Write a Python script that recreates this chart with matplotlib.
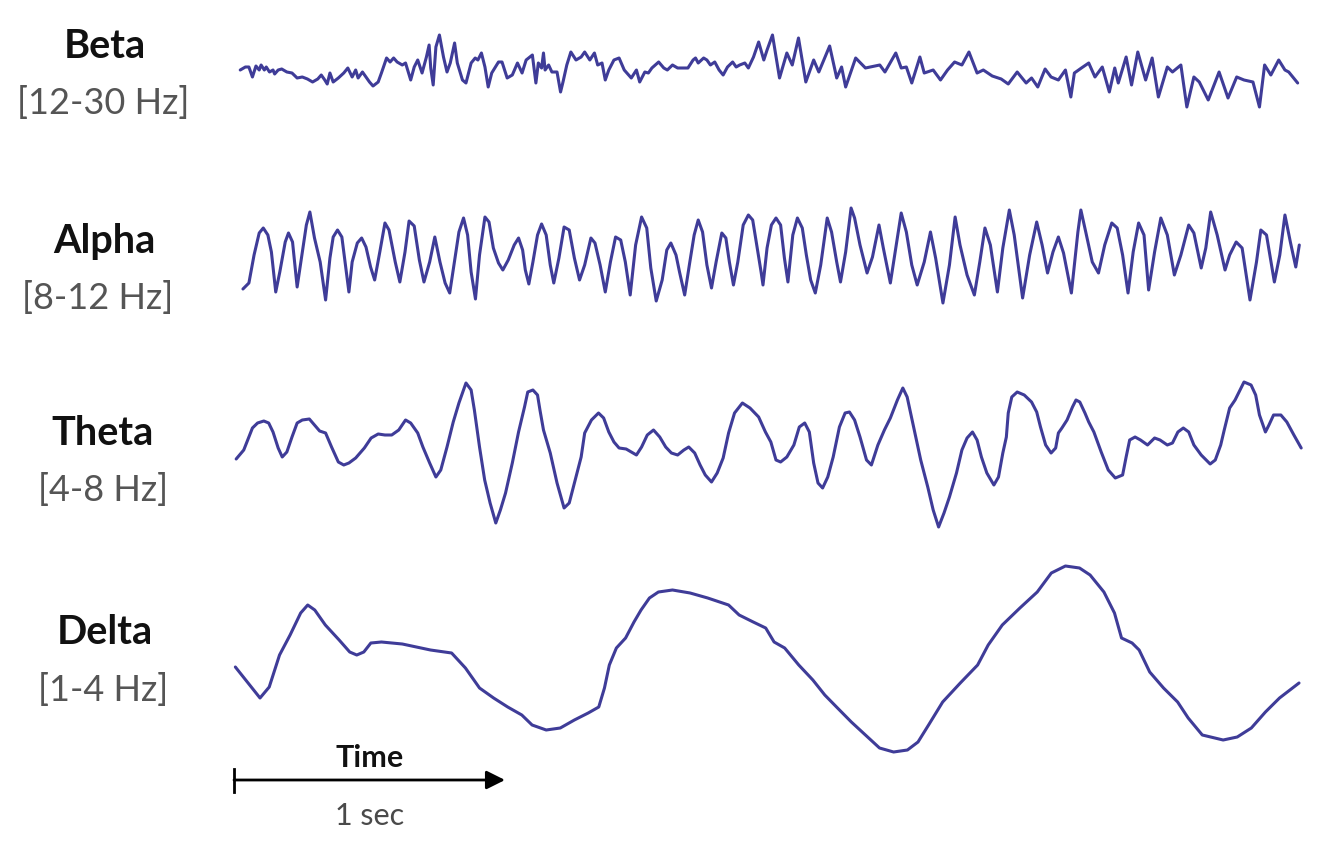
import numpy as np
import matplotlib.pyplot as plt

plt.rcParams['font.family'] = ['Lato', 'DejaVu Sans']

# EEG rhythms: time in ms, amplitude in uV
band_names = ["Beta", "Alpha", "Theta", "Delta"]
band_ranges = ["[12-30 Hz]", "[8-12 Hz]", "[4-8 Hz]", "[1-4 Hz]"]

beta = [(23, 2), (42, 5), (55, 5), (68, -5), (81, 6), (93, 2), (100, 7), (112, 2), (119, 5), (131, 0),
        (144, 2), (150, -2), (163, 2), (176, 3), (195, 0), (214, -1), (233, -6), (252, -5), (271, -7),
        (290, -10), (309, -7), (322, -3), (335, -8), (344, -12), (354, -1), (366, -10), (385, -6),
        (405, -1), (420, 4), (436, -5), (449, 2), (458, -6), (474, 0), (487, -5), (500, -10), (513, -14),
        (532, -10), (544, -1), (563, 14), (576, 10), (589, 14), (602, 10), (621, 7), (633, 9), (652, -8),
        (665, 5), (678, 12), (694, -1), (710, 15), (720, 27), (726, 4), (735, -13), (745, 25), (758, 37),
        (773, 15), (786, 0), (798, 9), (814, 29), (824, 9), (843, -8), (856, -11), (875, 9), (890, 14),
        (900, 12), (913, 19), (926, 5), (938, -15), (951, -1), (976, 10), (989, 10), (1008, -6),
        (1027, -3), (1046, 9), (1063, -1), (1078, 12), (1101, 17), (1114, -11), (1123, 9), (1135, 4),
        (1142, 19), (1148, 2), (1161, 7), (1173, 0), (1192, 0), (1205, -20), (1214, -10), (1228, 7),
        (1243, 20), (1262, 12), (1281, 15), (1294, 20), (1313, 12), (1330, 19), (1342, 7), (1358, 9),
        (1370, -8), (1383, 2), (1402, 12), (1421, 14), (1440, 2), (1466, -6), (1485, 2), (1497, -10),
        (1516, 0), (1529, -1), (1542, 4), (1567, 10), (1586, 4), (1599, 2), (1618, 7), (1637, 4),
        (1656, 4), (1675, 4), (1694, 12), (1703, 14), (1713, 9), (1733, 14), (1745, 12), (1758, 7),
        (1774, 10), (1790, 2), (1805, -3), (1821, 5), (1840, 10), (1853, 5), (1866, 7), (1885, 9),
        (1898, 4), (1917, 15), (1936, 30), (1955, 12), (1967, 22), (1987, 37), (2013, -6), (2040, 19),
        (2060, 7), (2083, 34), (2110, -10), (2139, 12), (2158, 0), (2198, 26), (2224, -6), (2242, 5),
        (2257, -15), (2294, 14), (2330, 4), (2383, 7), (2402, 0), (2442, 19), (2462, 4), (2481, 5),
        (2501, -11), (2531, 15), (2547, -1), (2580, 2), (2607, -8), (2633, 2), (2659, 10), (2686, 7),
        (2712, 20), (2742, -1), (2765, 2), (2798, -4), (2831, -7), (2857, -12), (2890, 0), (2923, -11),
        (2943, -6), (2966, -15), (2993, 3), (3015, -5), (3042, -8), (3068, 2), (3088, -25), (3101, -1),
        (3127, 4), (3154, 9), (3177, -5), (3204, 5), (3230, -20), (3250, 4), (3263, -11), (3292, 15),
        (3312, -13), (3335, 20), (3364, -8), (3388, 14), (3411, -25), (3444, 5), (3463, 0), (3494, 7),
        (3516, -35), (3542, -5), (3562, -10), (3595, -28), (3635, 0), (3668, -26), (3700, -5),
        (3727, -8), (3760, -10), (3784, -35), (3803, 7), (3826, -3), (3855, 12), (3878, 2), (3892, 0),
        (3925, -11)]

alpha = [(33, -32), (55, -26), (74, 2), (93, 24), (108, 29), (125, 22), (138, 5), (154, -35), (169, -15),
         (189, 15), (201, 24), (216, 15), (233, -30), (252, 5), (267, 32), (280, 45), (297, 19), (318, -5),
         (338, -43), (354, -1), (366, 20), (382, 27), (398, 20), (424, -35), (436, -5), (455, 14),
         (471, 19), (487, 10), (504, -10), (519, -23), (538, 5), (557, 34), (572, 27), (595, -5),
         (612, -25), (631, 5), (646, 36), (665, 31), (684, -3), (701, -25), (722, -5), (741, 20),
         (760, -5), (779, -26), (796, -36), (817, 2), (830, 25), (847, 39), (862, 22), (875, -15),
         (891, -42), (906, 2), (926, 40), (941, 35), (957, 9), (976, -6), (992, -13), (1012, -3),
         (1034, 12), (1050, 19), (1065, 7), (1075, -13), (1088, -27), (1103, -5), (1120, 22), (1135, 33),
         (1152, 22), (1167, -8), (1180, -26), (1199, -1), (1218, 30), (1237, 27), (1256, -1), (1275, -23),
         (1294, -8), (1317, 19), (1332, 14), (1351, -8), (1370, -35), (1389, -5), (1408, 20), (1427, 17),
         (1444, -5), (1462, -38), (1482, 12), (1504, 40), (1523, 29), (1538, -11), (1558, -44),
         (1580, -23), (1597, 7), (1612, 14), (1631, 2), (1644, -15), (1663, -38), (1682, -5), (1698, 22),
         (1713, 37), (1729, 25), (1745, -8), (1762, -31), (1779, -5), (1800, 24), (1815, 19), (1828, -5),
         (1843, -28), (1859, -5), (1879, 32), (1898, 42), (1914, 37), (1929, 12), (1945, -15),
         (1952, -28), (1967, 9), (1983, 32), (2000, 39), (2017, 32), (2031, -1), (2044, -25), (2062, 22),
         (2079, 39), (2097, 29), (2112, 2), (2128, -23), (2145, -36), (2165, -8), (2189, 39), (2205, 25),
         (2224, -5), (2238, -25), (2257, 5), (2277, 49), (2290, 39), (2310, 12), (2336, -16), (2356, 0),
         (2380, 32), (2396, 9), (2422, -26), (2442, 9), (2462, 44), (2481, 25), (2501, -8), (2521, -28),
         (2547, -5), (2570, 25), (2589, -1), (2616, -46), (2640, -8), (2661, 40), (2679, 12), (2705, -18),
         (2732, -38), (2752, -5), (2771, 29), (2791, 12), (2817, -35), (2837, 9), (2861, 47), (2879, 22),
         (2910, -41), (2936, 2), (2962, 35), (2982, 12), (3002, -16), (3022, 5), (3042, 20), (3061, 4),
         (3090, -36), (3114, 25), (3125, 47), (3143, 25), (3167, -5), (3190, -16), (3213, 12), (3239, 34),
         (3259, 29), (3279, 2), (3299, -36), (3318, 5), (3338, 34), (3358, 22), (3375, -33), (3397, 5),
         (3420, 39), (3444, 22), (3470, -18), (3494, 2), (3523, 32), (3542, 24), (3569, -11), (3586, 9),
         (3604, 45), (3628, 22), (3657, -13), (3674, 2), (3698, 15), (3720, 9), (3749, -43), (3773, -5),
         (3789, 27), (3810, 22), (3839, -25), (3859, 2), (3878, 42), (3898, 15), (3918, -10), (3931, 12)]

theta = [(8, -4), (36, 5), (68, 27), (87, 32), (110, 34), (128, 32), (144, 23), (163, 7), (178, -2),
         (195, 3), (214, 18), (233, 32), (252, 35), (278, 36), (297, 30), (316, 24), (338, 22), (360, 8),
         (385, -7), (405, -10), (424, -8), (449, -3), (481, 7), (506, 17), (532, 21), (557, 20), (582, 20),
         (608, 25), (633, 35), (652, 32), (678, 22), (697, 8), (722, -8), (745, -22), (763, -15), (786, 8),
         (809, 33), (830, 52), (856, 72), (875, 65), (887, 45), (906, 8), (925, -25), (945, -48),
         (966, -68), (983, -55), (1002, -38), (1027, -8), (1050, 23), (1072, 48), (1084, 63), (1103, 65),
         (1120, 60), (1129, 45), (1142, 25), (1167, 2), (1192, -28), (1218, -53), (1237, -48), (1256, -28),
         (1281, -2), (1294, 22), (1319, 35), (1345, 42), (1364, 37), (1383, 23), (1402, 13), (1421, 7),
         (1447, 6), (1466, 3), (1485, 0), (1504, 8), (1525, 20), (1548, 25), (1571, 18), (1593, 8),
         (1614, 2), (1637, 0), (1660, 5), (1678, 8), (1700, 2), (1720, -10), (1739, -20), (1762, -27),
         (1783, -18), (1805, -3), (1825, 22), (1847, 42), (1876, 52), (1904, 47), (1936, 38), (1961, 23),
         (1981, 13), (2000, -5), (2017, -7), (2040, -2), (2066, 10), (2086, 28), (2106, 32), (2123, 23),
         (2139, -8), (2155, -28), (2172, -33), (2191, -22), (2211, -2), (2234, 28), (2255, 42), (2271, 43),
         (2290, 35), (2310, 18), (2334, -5), (2352, -10), (2376, 10), (2400, 25), (2422, 37), (2448, 55),
         (2468, 67), (2484, 58), (2508, 28), (2534, -5), (2560, -32), (2580, -55), (2600, -72),
         (2620, -58), (2640, -42), (2666, -18), (2686, 5), (2705, 17), (2725, 23), (2742, 15), (2758, -2),
         (2778, -18), (2804, -30), (2821, -22), (2837, 2), (2850, 18), (2857, 42), (2870, 58), (2890, 63),
         (2916, 60), (2943, 53), (2962, 43), (2976, 28), (2995, 10), (3015, 2), (3032, 7), (3042, 22),
         (3055, 27), (3074, 35), (3094, 48), (3107, 55), (3121, 53), (3140, 42), (3154, 33), (3173, 23),
         (3200, 3), (3226, -15), (3252, -23), (3279, -20), (3292, -2), (3305, 15), (3325, 18), (3345, 15),
         (3371, 10), (3397, 17), (3417, 15), (3444, 10), (3463, 12), (3483, 23), (3503, 27), (3523, 23),
         (3542, 10), (3569, 0), (3602, -9), (3621, -5), (3641, 10), (3654, 25), (3674, 47), (3694, 55),
         (3727, 73), (3753, 70), (3770, 60), (3784, 40), (3806, 23), (3819, 30), (3836, 40), (3863, 40),
         (3885, 33), (3911, 20), (3938, 7)]

delta = [(5, -7), (52, -23), (96, -38), (130, -27), (168, 5), (207, 25), (246, 47), (272, 55), (298, 50),
         (337, 35), (388, 20), (427, 8), (453, 5), (479, 8), (505, 17), (544, 18), (621, 16), (725, 10),
         (803, 7), (854, -8), (906, -28), (958, -38), (1010, -47), (1062, -55), (1100, -65), (1152, -70),
         (1204, -68), (1256, -60), (1307, -53), (1346, -47), (1367, -28), (1385, -5), (1411, 12),
         (1445, 22), (1476, 38), (1502, 50), (1533, 62), (1566, 68), (1618, 70), (1683, 67), (1748, 62),
         (1825, 55), (1864, 45), (1916, 38), (1962, 32), (1993, 18), (2032, 12), (2084, -5), (2136, -20),
         (2180, -35), (2227, -48), (2278, -62), (2330, -75), (2382, -88), (2434, -92), (2485, -90),
         (2524, -82), (2563, -65), (2615, -42), (2680, -23), (2744, -5), (2783, 15), (2835, 35),
         (2900, 52), (2964, 68), (3016, 87), (3068, 94), (3120, 92), (3159, 85), (3210, 68), (3249, 47),
         (3275, 22), (3314, 17), (3340, 10), (3379, -12), (3430, -28), (3482, -42), (3521, -58),
         (3573, -75), (3650, -80), (3702, -77), (3754, -68), (3806, -52), (3858, -38), (3930, -23)]

traces = [beta, alpha, theta, delta]

# layout (in reference pixels, 271 px = 1 s)
W, H = 1326, 842
PX_PER_MS = 271 / 1000
T0_PX = 234
baselines = [72, 257, 455, 660]
name_pos = [(105, 47), (104, 241), (103, 433), (105, 633)]
range_pos = [(103, 103), (98, 298), (103, 490), (103, 690)]
wave_color = '#3f3c98'

fig = plt.figure(figsize=(W / 100, H / 100), dpi=100)
ax = fig.add_axes([0, 0, 1, 1])
ax.set_xlim(-T0_PX / PX_PER_MS, (W - T0_PX) / PX_PER_MS)
ax.set_ylim(H, 0)
ax.axis('off')

for data, base in zip(traces, baselines):
    arr = np.array(data, dtype=float)
    ax.plot(arr[:, 0], base - arr[:, 1], color=wave_color, lw=2.2,
            solid_joinstyle='round', solid_capstyle='round')

for name, rng, (nx, ny), (rx, ry) in zip(band_names, band_ranges, name_pos, range_pos):
    fig.text(nx / W, 1 - ny / H, name, ha='center', va='center',
             fontsize=28.5, fontweight='bold', color='#111111')
    fig.text(rx / W, 1 - ry / H, rng, ha='center', va='center',
             fontsize=26, color='#555555')

# time scale bar: 1 second
ax.annotate('', xy=(1000, 780), xytext=(0, 780),
            arrowprops=dict(arrowstyle='-|>', color='black', lw=2,
                            mutation_scale=28, shrinkA=0, shrinkB=0))
ax.plot([0, 0], [769, 792], color='black', lw=2)
ax.text(500, 758, 'Time', ha='center', va='center', fontsize=22,
        fontweight='bold', color='#111111')
ax.text(500, 816, '1 sec', ha='center', va='center', fontsize=22, color='#4a4a4a')

fig.savefig('out.png', dpi=100)
